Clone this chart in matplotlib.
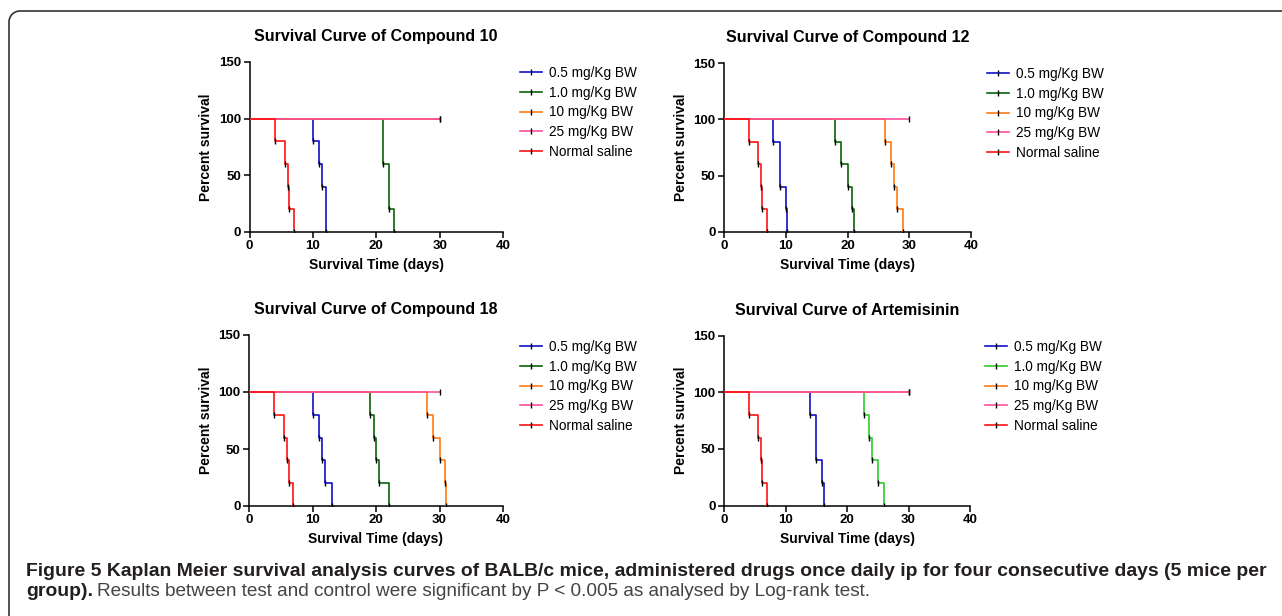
import numpy as np
import matplotlib
matplotlib.use("Agg")
import matplotlib.pyplot as plt
from matplotlib.lines import Line2D

W, H = 1282, 616
plt.rcParams['font.family'] = ['Liberation Sans', 'DejaVu Sans']

labels = ['0.5 mg/Kg BW', '1.0 mg/Kg BW', '10 mg/Kg BW', '25 mg/Kg BW', 'Normal saline']
titles = ['Survival Curve of Compound 10', 'Survival Curve of Compound 12',
          'Survival Curve of Compound 18', 'Survival Curve of Artemisinin']

# times (days) at which survival drops, and the percent surviving after each drop
c10_t = [[0, 10, 11, 11.4, 12], [0, 21, 22, 22.8], [0, 30], [0, 30], [0, 4, 5.6, 6, 6.3, 7]]
c10_s = [[100, 80, 60, 40, 0], [100, 60, 20, 0], [100, 100], [100, 100], [100, 80, 60, 40, 20, 0]]

c12_t = [[0, 8, 9, 10, 10.2], [0, 18, 19, 20, 20.7, 21], [0, 26, 27, 27.5, 28, 29], [0, 30],
         [0, 4, 5.5, 6, 6.2, 7]]
c12_s = [[100, 80, 40, 20, 0], [100, 80, 60, 40, 20, 0], [100, 80, 60, 40, 20, 0], [100, 100],
         [100, 80, 60, 40, 20, 0]]

c18_t = [[0, 10, 11, 11.5, 12, 13], [0, 19, 19.7, 20, 20.4, 22], [0, 28, 29, 30, 30.8, 31], [0, 30],
         [0, 4, 5.5, 6, 6.3, 7]]
c18_s = [[100, 80, 60, 40, 20, 0], [100, 80, 60, 40, 20, 0], [100, 80, 60, 40, 20, 0], [100, 100],
         [100, 80, 60, 40, 20, 0]]

art_t = [[0, 14, 15, 16, 16.3], [0, 22.7, 23.5, 24, 25, 26], [0, 30], [0, 30], [0, 4, 5.5, 6, 6.2, 7]]
art_s = [[100, 80, 40, 20, 0], [100, 80, 60, 40, 20, 0], [100, 100], [100, 100], [100, 80, 60, 40, 20, 0]]

colors = ['#1010c8', '#0a640a', '#ff7a10', '#ff4f9e', '#ff1010']
colors_art = ['#1010c8', '#2ecc2e', '#ff7a10', '#ff4f9e', '#ff1010']

# pixel boxes: left, right, top, bottom
boxes = [(249.5, 503, 62, 232), (724, 971, 63, 232), (249, 503, 335, 506), (724, 970, 335.5, 505.7)]
legend_pos = [(520, 66), (987, 67), (520, 340), (985, 340)]

fig = plt.figure(figsize=(W / 100, H / 100), dpi=100)

panels = [(c10_t, c10_s, colors), (c12_t, c12_s, colors), (c18_t, c18_s, colors), (art_t, art_s, colors_art)]
for i, (ts, ss, cols) in enumerate(panels):
    l, r, t, b = boxes[i]
    ax = fig.add_axes([l / W, 1 - b / H, (r - l) / W, (b - t) / H])
    handles = []
    for j in range(5):
        ax.step(ts[j], ss[j], where='post', color=cols[j], lw=1.2, zorder=2 + j)
        ax.plot(ts[j][1:], ss[j][1:], ls='none', marker='|', color='black', ms=4, mew=1.0, zorder=10)
        handles.append(Line2D([], [], color=cols[j], lw=1.2, marker='|', mec='black', ms=4, mew=1.0))
    ax.set_xlim(0, 40)
    ax.set_ylim(0, 150)
    ax.set_xticks([0, 10, 20, 30, 40])
    ax.set_yticks([0, 50, 100, 150])
    for s in ['top', 'right']:
        ax.spines[s].set_visible(False)
    for s in ['left', 'bottom']:
        ax.spines[s].set_linewidth(1.1)
    ax.tick_params(direction='out', length=4, width=1.1, labelsize=9.5, pad=2)
    for lab in ax.get_xticklabels() + ax.get_yticklabels():
        lab.set_fontweight('bold')
    ax.set_xlabel('Survival Time (days)', fontsize=10, fontweight='bold', labelpad=4)
    ax.set_ylabel('Percent survival', fontsize=10, fontweight='bold', labelpad=4)
    ax.set_title(titles[i], fontsize=11.5, fontweight='bold', pad=15)
    lx, ly = legend_pos[i]
    ax.legend(handles, labels, loc='upper left', bbox_to_anchor=(lx / W, 1 - ly / H),
              bbox_transform=fig.transFigure, frameon=False, fontsize=9.8, borderpad=0,
              handlelength=1.6, handletextpad=0.5, labelspacing=0.42, borderaxespad=0)

# rounded frame on the left and top
rad = 11
arc = np.linspace(np.pi, np.pi / 2, 20)
bx = np.concatenate([[9], 9 + rad + rad * np.cos(arc), [W]])
by = np.concatenate([[H], 11 + rad - rad * np.sin(arc), [11]])
fig.add_artist(Line2D(bx / W, 1 - by / H, color='#333333', lw=1.2, transform=fig.transFigure))

fig.canvas.draw()
rend = fig.canvas.get_renderer()
line1 = ('Figure 5 Kaplan Meier survival analysis curves of BALB/c mice, administered drugs once daily '
         'ip for four consecutive days (5 mice per')
t1 = fig.text(26 / W, 1 - 572 / H, line1, fontsize=11, fontweight='bold', color='#231f20', va='center')
w1 = t1.get_window_extent(rend).width
fs = 11 * 1242 / w1
t1.set_fontsize(fs)
t2 = fig.text(26 / W, 1 - 592 / H, 'group).', fontsize=fs, fontweight='bold', color='#231f20', va='center')
e2 = t2.get_window_extent(rend)
t3 = fig.text(e2.x1 / W + 4 / W, 1 - 592 / H,
              'Results between test and control were significant by P < 0.005 as analysed by Log-rank test.',
              fontsize=fs * 0.98, color='#444444', va='center')

fig.savefig('out.png', dpi=100, facecolor='white')
